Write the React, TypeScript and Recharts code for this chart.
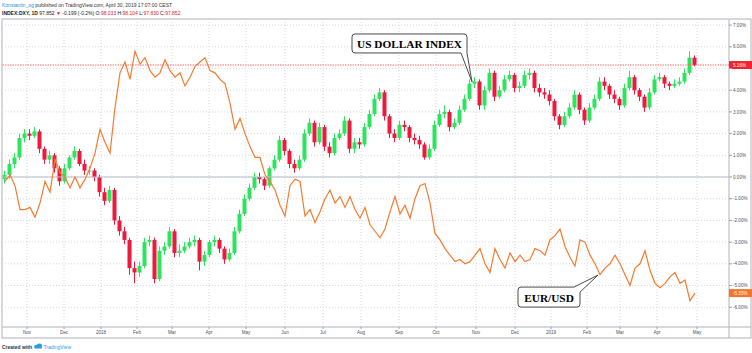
import React from 'react';
import { ComposedChart, Bar, Line, XAxis, YAxis, CartesianGrid, ReferenceLine, ReferenceDot } from 'recharts';

// DXY daily candles aggregated (percent change from start)
const dxyOpen = [
  -0.1, 0.1, 0.6, 0.9, 1.8, 2.0, 1.9, 2.1, 1.3, 0.8,
  1.0, 0.4, -0.2, 0.4, 0.9, 1.2, 0.6, 0.3, 0.3, 0.0,
  -0.7, -1.1, -0.6, -2.0, -2.5, -2.9, -4.2, -4.4, -4.1, -3.0,
  -2.9, -4.7, -3.4, -3.2, -2.5, -3.5, -3.4, -3.2, -3.0, -2.9,
  -3.9, -3.6, -3.0, -2.9, -3.3, -3.8, -3.5, -2.5, -1.7, -1.0,
  -0.5, 0.0, -0.1, -0.4, 0.4, 0.8, 1.7, 1.2, 0.6, 0.4,
  0.8, 2.0, 2.5, 1.6, 2.3, 1.4, 1.1, 1.8, 2.0, 2.6,
  1.3, 1.6, 1.5, 2.3, 2.9, 3.6, 3.9, 2.8, 2.0, 1.8,
  2.4, 2.3, 1.8, 1.7, 1.5, 0.9, 1.3, 2.4, 2.9, 3.0,
  2.3, 2.5, 3.1, 3.6, 4.3, 4.4, 3.3, 4.0, 4.8, 3.7,
  4.0, 4.5, 4.7, 4.1, 4.2, 4.7, 4.8, 4.1, 3.9, 3.8,
  3.5, 2.8, 2.4, 2.8, 3.2, 3.8, 3.1, 2.6, 3.2, 3.6,
  4.4, 4.2, 3.8, 3.6, 3.3, 4.1, 4.6, 4.0, 3.7, 3.2,
  3.9, 4.5, 4.6, 4.3, 4.2, 4.3, 4.4, 4.8, 5.5,
];
const dxyHigh = [
  0.3, 0.8, 1.1, 2.0, 2.2, 2.2, 2.3, 2.2, 1.4, 1.2,
  1.1, 0.5, 0.6, 1.0, 1.4, 1.3, 0.8, 0.5, 0.4, 0.1,
  -0.5, -0.4, -0.5, -1.8, -2.3, -2.8, -3.9, -3.9, -2.8, -2.7,
  -2.8, -3.2, -3.0, -2.3, -2.4, -3.1, -3.0, -2.8, -2.7, -2.8,
  -3.4, -2.9, -2.7, -2.8, -3.2, -3.3, -2.3, -1.5, -0.8, -0.3,
  0.2, 0.2, 0.0, 0.5, 1.0, 1.9, 1.8, 1.3, 0.8, 1.0,
  2.2, 2.7, 2.6, 2.5, 2.4, 1.6, 2.0, 2.2, 2.8, 2.7,
  1.8, 1.8, 2.5, 3.1, 3.8, 4.1, 4.0, 2.9, 2.2, 2.6,
  2.6, 2.4, 2.0, 1.9, 1.6, 1.5, 2.6, 3.1, 3.3, 3.1,
  2.7, 3.3, 3.8, 4.5, 4.6, 4.5, 4.2, 5.0, 4.9, 4.2,
  4.7, 4.9, 4.8, 4.4, 4.9, 5.0, 4.9, 4.3, 4.1, 4.0,
  3.6, 2.9, 3.0, 3.4, 4.0, 3.9, 3.2, 3.4, 3.8, 4.6,
  4.6, 4.3, 4.0, 3.7, 4.3, 4.9, 4.7, 4.1, 3.8, 4.1,
  4.7, 4.8, 4.7, 4.4, 4.5, 4.6, 5.0, 5.8, 5.6,
];
const dxyLow = [
  -0.3, -0.1, 0.4, 0.8, 1.6, 1.7, 1.8, 1.1, 0.6, 0.6,
  0.2, -0.4, -0.3, 0.3, 0.8, 0.5, 0.1, 0.1, -0.2, -0.9,
  -1.3, -1.2, -2.2, -2.7, -3.1, -4.5, -4.9, -4.6, -4.2, -3.2,
  -4.9, -4.8, -3.6, -3.3, -3.7, -3.7, -3.5, -3.3, -3.2, -4.3,
  -4.1, -3.7, -3.2, -3.5, -4.0, -3.9, -3.6, -2.6, -1.8, -1.1,
  -0.6, -0.3, -0.6, -0.5, 0.3, 0.7, 1.0, 0.4, 0.2, 0.3,
  0.7, 1.9, 1.4, 1.5, 1.2, 0.9, 1.0, 1.7, 1.9, 1.1,
  1.1, 1.3, 1.4, 2.2, 2.8, 3.5, 2.6, 1.8, 1.6, 1.7,
  2.1, 1.6, 1.5, 1.3, 0.8, 0.8, 1.2, 2.3, 2.7, 2.1,
  2.2, 2.4, 3.0, 3.5, 4.1, 3.1, 3.1, 3.9, 3.5, 3.6,
  3.9, 4.4, 3.9, 3.9, 4.1, 4.5, 3.9, 3.7, 3.6, 3.3,
  2.6, 2.2, 2.3, 2.7, 3.1, 2.9, 2.4, 2.5, 3.1, 3.5,
  4.0, 3.6, 3.4, 3.1, 3.2, 4.0, 3.8, 3.5, 3.0, 3.1,
  3.8, 4.4, 4.1, 4.0, 4.1, 4.2, 4.3, 4.7, 5.1,
];
const dxyClose = [
  0.1, 0.6, 0.9, 1.8, 2.0, 1.9, 2.1, 1.3, 0.8, 1.0,
  0.4, -0.2, 0.4, 0.9, 1.2, 0.6, 0.3, 0.3, 0.0, -0.7,
  -1.1, -0.6, -2.0, -2.5, -2.9, -4.2, -4.4, -4.1, -3.0, -2.9,
  -4.7, -3.4, -3.2, -2.5, -3.5, -3.4, -3.2, -3.0, -2.9, -3.9,
  -3.6, -3.0, -2.9, -3.3, -3.8, -3.5, -2.5, -1.7, -1.0, -0.5,
  0.0, -0.1, -0.4, 0.4, 0.8, 1.7, 1.2, 0.6, 0.4, 0.8,
  2.0, 2.5, 1.6, 2.3, 1.4, 1.1, 1.8, 2.0, 2.6, 1.3,
  1.6, 1.5, 2.3, 2.9, 3.6, 3.9, 2.8, 2.0, 1.8, 2.4,
  2.3, 1.8, 1.7, 1.5, 0.9, 1.3, 2.4, 2.9, 3.0, 2.3,
  2.5, 3.1, 3.6, 4.3, 4.4, 3.3, 4.0, 4.8, 3.7, 4.0,
  4.5, 4.7, 4.1, 4.2, 4.7, 4.8, 4.1, 3.9, 3.8, 3.5,
  2.8, 2.4, 2.8, 3.2, 3.8, 3.1, 2.6, 3.2, 3.6, 4.4,
  4.2, 3.8, 3.6, 3.3, 4.1, 4.6, 4.0, 3.7, 3.2, 3.9,
  4.5, 4.6, 4.3, 4.2, 4.3, 4.4, 4.8, 5.5, 5.16,
];
// EUR/USD percent change from start
const eurUsd = [
  -0.2, 0.1, -0.4, -1.5, -1.5, -1.4, -1.85, -1.2, -0.2, -0.7,
  0.8, 0.2, 0.0, -0.5, 0.0, -0.5, -0.1, 0.4, 1.1, 2.2,
  1.6, 1.1, 3.2, 4.8, 5.3, 4.5, 5.8, 5.2, 5.5, 4.9,
  4.6, 4.8, 5.4, 4.9, 4.6, 4.8, 4.2, 4.6, 5.1, 5.3,
  5.5, 4.9, 4.8, 4.5, 4.3, 3.4, 2.2, 2.7, 2.0, 1.4,
  0.9, 0.9, 0.1, -0.2, -0.6, -1.3, -1.8, -0.4, -0.1, -0.2,
  -1.8, -1.5, -2.1, -1.6, -1.0, -0.6, -1.2, -0.9, -1.4, -0.9,
  -1.5, -1.9, -1.4, -2.2, -2.5, -2.8, -2.4, -1.6, -0.9, -1.7,
  -1.3, -1.9, -1.0, -0.4, -0.3, -1.2, -2.6, -2.9, -3.3, -3.6,
  -3.9, -3.8, -4.0, -3.9, -3.6, -3.3, -4.0, -4.4, -3.3, -3.8,
  -4.2, -3.5, -3.9, -3.6, -3.9, -3.8, -3.3, -3.4, -3.6, -2.9,
  -2.7, -2.4, -3.2, -3.7, -4.1, -2.9, -3.0, -3.6, -4.0, -4.5,
  -4.2, -4.0, -3.6, -4.0, -4.5, -5.0, -4.2, -4.0, -3.4, -4.3,
  -4.9, -5.1, -4.9, -4.6, -4.4, -4.9, -4.75, -5.7, -5.35,
];

// month boundaries in bar units
const monthTickPos = [4.4, 11.8, 19.2, 26.4, 33.4, 40.8, 48.2, 56.0, 63.6, 71.2, 78.8, 86.2, 94.2, 102.0, 109.2, 116.4, 123.0, 130.4, 138.4];
const monthLabels = ['Nov', 'Dec', '2018', 'Feb', 'Mar', 'Apr', 'May', 'Jun', 'Jul', 'Aug', 'Sep', 'Oct', 'Nov', 'Dec', '2019', 'Feb', 'Mar', 'Apr', 'May'];
const pctTicks = [-6, -5, -4, -3, -2, -1, 0, 1, 2, 3, 4, 5, 6, 7];

const dxyCalloutAt = { t: 93.4, v: 4.38 };
const eurCalloutAt = { t: 118.6, v: -4.52 };

const rows = dxyClose.map((c, i) => ({
  t: i,
  o: dxyOpen[i],
  h: dxyHigh[i],
  l: dxyLow[i],
  c,
  hl: [dxyLow[i], dxyHigh[i]],
  eur: eurUsd[i],
}));

const UP = '#2ee35e';
const DOWN = '#ec1a3c';
const ORANGE = '#f47b30';
const SANS = 'Liberation Sans, Arial, sans-serif';
const SERIF = 'Liberation Serif, Times New Roman, serif';

function Candle(p: any) {
  const { x, y, width, height, payload } = p;
  if (x == null || y == null || !payload) return null;
  const top = Math.min(y, y + height);
  const bot = Math.max(y, y + height);
  const span = payload.h - payload.l;
  const k = span > 0 ? (bot - top) / span : 0;
  const yO = top + (payload.h - payload.o) * k;
  const yC = top + (payload.h - payload.c) * k;
  const col = payload.c >= payload.o ? UP : DOWN;
  const cx = x + width / 2;
  const bTop = Math.min(yO, yC);
  const bH = Math.max(1, Math.abs(yO - yC));
  return (
    <g>
      <line x1={cx} x2={cx} y1={top} y2={bot} stroke={col} strokeWidth={1} />
      <rect x={x} y={bTop} width={width} height={bH} fill={col} />
    </g>
  );
}

function PriceTag(props: any) {
  const { viewBox, text, fill } = props;
  if (!viewBox) return null;
  const x = viewBox.x + viewBox.width;
  const y = viewBox.y;
  return (
    <g>
      <rect x={x} y={y - 4} width={23} height={8} fill={fill} />
      <text x={x + 4} y={y + 1.7} fontSize={4.6} fill="#ffffff" fontFamily={SANS}>{text}</text>
    </g>
  );
}

function DxyCallout(p: any) {
  const { cx, cy } = p;
  if (cx == null) return null;
  const w = 115, h = 19, r = 3;
  const left = cx - 120, top = cy - 48, right = left + w, bottom = top + h;
  const d = `M${left + r},${top} H${right - r} Q${right},${top} ${right},${top + r} V${bottom} L${cx},${cy} L${right - 6},${bottom} H${left + r} Q${left},${bottom} ${left},${bottom - r} V${top + r} Q${left},${top} ${left + r},${top} Z`;
  return (
    <g>
      <path d={d} fill="#ffffff" stroke="#4a4a4a" strokeWidth={1} />
      <text x={left + w / 2} y={top + 14} textAnchor="middle" fontSize={11.3} fontWeight="bold" fontFamily={SERIF} fill="#000">US DOLLAR INDEX</text>
    </g>
  );
}

function EurCallout(p: any) {
  const { cx, cy } = p;
  if (cx == null) return null;
  const w = 62, h = 20, r = 3;
  const left = cx - 80, top = cy + 12, right = left + w, bottom = top + h;
  const d = `M${left + r},${top} H${right - 6} L${cx},${cy} L${right},${top + 5} V${bottom - r} Q${right},${bottom} ${right - r},${bottom} H${left + r} Q${left},${bottom} ${left},${bottom - r} V${top + r} Q${left},${top} ${left + r},${top} Z`;
  return (
    <g>
      <path d={d} fill="#ffffff" stroke="#4a4a4a" strokeWidth={1} />
      <text x={left + w / 2} y={top + 14.5} textAnchor="middle" fontSize={11.3} fontWeight="bold" fontFamily={SERIF} fill="#000">EUR/USD</text>
    </g>
  );
}

export default function App() {
  const lastDxy = dxyClose[dxyClose.length - 1];
  const lastEur = eurUsd[eurUsd.length - 1];
  const frame = '#9a9ea8';
  return (
    <div style={{ position: 'absolute', left: 0, top: 0, width: 752, height: 353, background: '#fff' }}>
      <svg width={752} height={353} style={{ position: 'absolute', left: 0, top: 0 }}>
        <text x={2} y={7} fontSize={5} fontFamily={SANS} fill="#333">
          <tspan fill="#2a8fe0">Konstantin_og</tspan>
          <tspan> published on TradingView.com, April 30, 2019 17:07:00 CEST</tspan>
        </text>
        <text x={2} y={15} fontSize={5} fontFamily={SANS} fill="#222">
          <tspan fontWeight="bold">INDEX:DXY, 1D</tspan>
          <tspan> 97.852 </tspan>
          <tspan fill="#e8162e">▼</tspan>
          <tspan> -0.199 (-0.2%) O:</tspan>
          <tspan fill="#e8162e">98.033</tspan>
          <tspan> H:</tspan>
          <tspan fill="#e8162e">98.104</tspan>
          <tspan> L:</tspan>
          <tspan fill="#e8162e">97.830</tspan>
          <tspan> C:</tspan>
          <tspan fill="#e8162e">97.852</tspan>
        </text>
        <rect x={2} y={19} width={749} height={319} fill="none" stroke={frame} strokeWidth={0.8} />
        <line x1={2} x2={751} y1={327} y2={327} stroke={frame} strokeWidth={0.8} />
        <line x1={729} x2={729} y1={19} y2={338} stroke={frame} strokeWidth={0.8} />
        <text x={2} y={348.5} fontSize={5} fontFamily={SANS} fill="#333" fontWeight="bold">Created with</text>
        <g fill="#2a9de8">
          <ellipse cx={36.5} cy={346.5} rx={2.2} ry={1.8} />
          <ellipse cx={39.5} cy={345.8} rx={2.6} ry={2.3} />
          <rect x={34.5} y={346.5} width={7.5} height={2} />
        </g>
        <text x={43.5} y={348.5} fontSize={5} fontFamily={SANS} fill="#2a9de8">TradingView</text>
      </svg>
      <div style={{ position: 'absolute', left: 0, top: 0 }}>
        <ComposedChart width={752} height={353} data={rows} margin={{ top: 19, right: 0, bottom: 15, left: 2 }}>
          <CartesianGrid stroke="#d3d7df" strokeDasharray="1 2" />
          <XAxis
            type="number"
            dataKey="t"
            domain={[-0.6, 144.8]}
            allowDataOverflow
            ticks={monthTickPos}
            interval={0}
            tickFormatter={(v: number) => monthLabels[monthTickPos.indexOf(v)] ?? ''}
            height={11}
            axisLine={false}
            tickSize={2}
            tickMargin={2}
            tickLine={{ stroke: frame }}
            tick={{ fontSize: 4.6, fill: '#4c525e', fontFamily: SANS }}
          />
          <YAxis
            orientation="right"
            type="number"
            domain={[-6.912, 7.281]}
            allowDataOverflow
            ticks={pctTicks}
            interval={0}
            tickFormatter={(v: number) => (Math.abs(v - dxyClose[dxyClose.length - 1]) < 0.3 ? '' : v.toFixed(2) + '%')}
            width={23}
            axisLine={false}
            tickSize={3}
            tickMargin={1}
            tickLine={{ stroke: frame }}
            tick={{ fontSize: 4.6, fill: '#4c525e', fontFamily: SANS, textAnchor: 'start' }}
          />
          <ReferenceLine y={0} stroke="#b4bcc8" strokeWidth={1} />
          <Bar dataKey="hl" barSize={4} isAnimationActive={false} shape={(p: any) => <Candle {...p} />} />
          <Line type="linear" dataKey="eur" stroke={ORANGE} strokeWidth={1.2} dot={false} activeDot={false} isAnimationActive={false} />
          <ReferenceLine
            y={lastDxy}
            stroke="#ff5c5c"
            strokeDasharray="1.5 1"
            strokeWidth={0.9}
            label={(lp: any) => <PriceTag viewBox={lp.viewBox} text={lastDxy.toFixed(2) + '%'} fill="#f5222d" />}
          />
          <ReferenceLine
            y={lastEur}
            stroke="none"
            strokeOpacity={0}
            label={(lp: any) => <PriceTag viewBox={lp.viewBox} text={lastEur.toFixed(2) + '%'} fill="#f5762a" />}
          />
          <ReferenceDot x={dxyCalloutAt.t} y={dxyCalloutAt.v} r={1} shape={(p: any) => <DxyCallout {...p} />} />
          <ReferenceDot x={eurCalloutAt.t} y={eurCalloutAt.v} r={1} shape={(p: any) => <EurCallout {...p} />} />
        </ComposedChart>
      </div>
    </div>
  );
}
